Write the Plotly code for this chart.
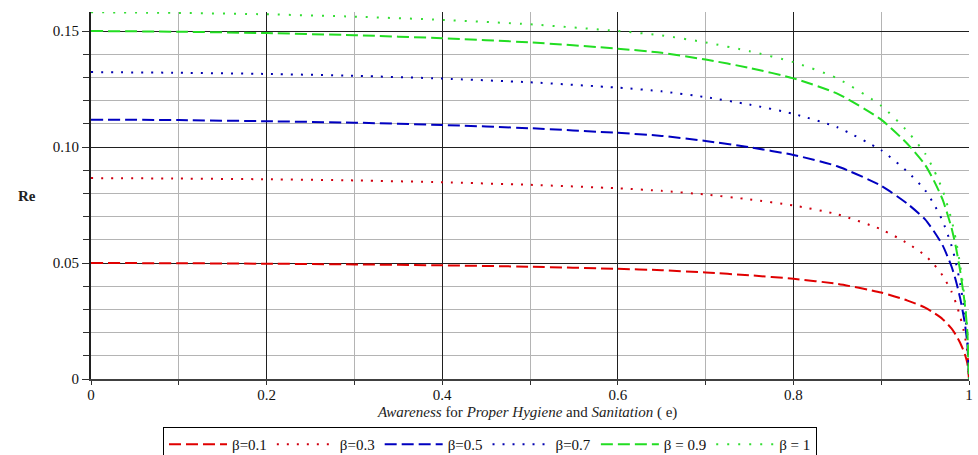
import plotly.graph_objects as go

# Awareness level e
e_vals = [0, 0.1, 0.2, 0.3, 0.4, 0.5, 0.6, 0.65, 0.7, 0.75, 0.8, 0.85, 0.9, 0.93,
          0.95, 0.96, 0.97, 0.98, 0.985, 0.99, 0.995, 0.998, 1.0]

re_b01 = [0.0500, 0.0499, 0.0497, 0.0494, 0.0490, 0.0484, 0.0475, 0.0469, 0.0459, 0.0447,
          0.0432, 0.0410, 0.0373, 0.0338, 0.0308, 0.0285, 0.0258, 0.0218, 0.0190, 0.0155,
          0.0110, 0.0070, 0.0]
re_b03 = [0.0866, 0.0864, 0.0861, 0.0856, 0.0848, 0.0837, 0.0822, 0.0811, 0.0795, 0.0774,
          0.0748, 0.0710, 0.0645, 0.0585, 0.0533, 0.0494, 0.0446, 0.0377, 0.0329, 0.0268,
          0.0191, 0.0121, 0.0]
re_b05 = [0.1118, 0.1116, 0.1111, 0.1105, 0.1095, 0.1081, 0.1061, 0.1048, 0.1026, 0.0999,
          0.0966, 0.0917, 0.0833, 0.0755, 0.0688, 0.0637, 0.0576, 0.0486, 0.0425, 0.0347,
          0.0246, 0.0157, 0.0]
re_b07 = [0.1323, 0.1320, 0.1315, 0.1307, 0.1295, 0.1279, 0.1256, 0.1240, 0.1215, 0.1183,
          0.1143, 0.1085, 0.0986, 0.0893, 0.0814, 0.0754, 0.0681, 0.0576, 0.0503, 0.0410,
          0.0291, 0.0185, 0.0]
re_b09 = [0.1500, 0.1497, 0.1491, 0.1482, 0.1469, 0.1451, 0.1424, 0.1406, 0.1377, 0.1341,
          0.1296, 0.1230, 0.1118, 0.1013, 0.0923, 0.0855, 0.0773, 0.0653, 0.0570, 0.0465,
          0.0330, 0.0210, 0.0]
re_b10 = [0.1581, 0.1578, 0.1572, 0.1562, 0.1548, 0.1529, 0.1500, 0.1481, 0.1451, 0.1413,
          0.1366, 0.1296, 0.1178, 0.1067, 0.0972, 0.0901, 0.0814, 0.0688, 0.0601, 0.0490,
          0.0348, 0.0221, 0.0]

series_names = ["β=0.1", "β=0.3", "β=0.5", "β=0.7", "β = 0.9", "β = 1"]
series_vals = [re_b01, re_b03, re_b05, re_b07, re_b09, re_b10]
series_colors = ["#e00000", "#d00010", "#0000c0", "#0000b0", "#22dd22", "#33dd33"]
series_dash = ["12px,5px", "2px,8px", "12px,5px", "2px,8px", "12px,5px", "2px,9px"]

x_ticks = [0, 0.2, 0.4, 0.6, 0.8, 1.0]
x_ticktext = ["0", "0.2", "0.4", "0.6", "0.8", "1"]
y_ticks = [0, 0.05, 0.10, 0.15]
y_ticktext = ["0", "0.05", "0.10", "0.15"]

fig = go.Figure()
for name, vals, col, dash in zip(series_names, series_vals, series_colors, series_dash):
    fig.add_trace(go.Scatter(
        x=e_vals, y=vals, mode="lines", name=name,
        line=dict(color=col, width=2, dash=dash, shape="spline", smoothing=0.6),
    ))

serif = "Liberation Serif"

fig.update_layout(
    width=978, height=455,
    margin=dict(l=91, r=9, t=12, b=76, autoexpand=False),
    paper_bgcolor="white", plot_bgcolor="white",
    font=dict(family=serif, size=14, color="#222"),
    showlegend=True,
    legend=dict(
        orientation="h", x=0.082, xanchor="left", y=-0.131, yanchor="top",
        bordercolor="black", borderwidth=1, bgcolor="white",
        font=dict(family=serif, size=15, color="#111"),
        itemwidth=58, tracegroupgap=0,
    ),
    xaxis=dict(
        range=[0, 1.0], tickvals=x_ticks, ticktext=x_ticktext,
        showgrid=True, gridcolor="#202020", gridwidth=1,
        showline=True, linecolor="#404040", linewidth=2,
        ticks="outside", ticklen=4, tickcolor="#303030",
        ticklabelstandoff=-3,
        zeroline=False,
        minor=dict(dtick=0.1, showgrid=True, gridcolor="#b4b4b4", gridwidth=1,
                   ticks="outside", ticklen=4, tickcolor="#303030"),
        tickfont=dict(family=serif, size=15, color="#111"),
    ),
    yaxis=dict(
        range=[0, 0.1582], tickvals=y_ticks, ticktext=y_ticktext,
        showgrid=True, gridcolor="#202020", gridwidth=1,
        showline=True, linecolor="#202020", linewidth=2,
        ticks="outside", ticklen=7, tickcolor="#303030",
        zeroline=False,
        minor=dict(dtick=0.01, showgrid=True, gridcolor="#b4b4b4", gridwidth=1,
                   ticks="outside", ticklen=6, tickcolor="#303030"),
        tickfont=dict(family=serif, size=15, color="#111"),
    ),
    annotations=[
        dict(text="<b>Re</b>", xref="paper", yref="paper", x=-0.073, y=0.499,
             xanchor="center", yanchor="middle", showarrow=False,
             font=dict(family=serif, size=15, color="#222")),
        dict(text="<i>Awareness</i> for <i>Proper Hygiene</i> and <i>Sanitation</i> ( e)",
             xref="paper", yref="paper", x=0.497, y=-0.091,
             xanchor="center", yanchor="middle", showarrow=False,
             font=dict(family=serif, size=15, color="#222")),
    ],
)

fig.write_html("out.html")
